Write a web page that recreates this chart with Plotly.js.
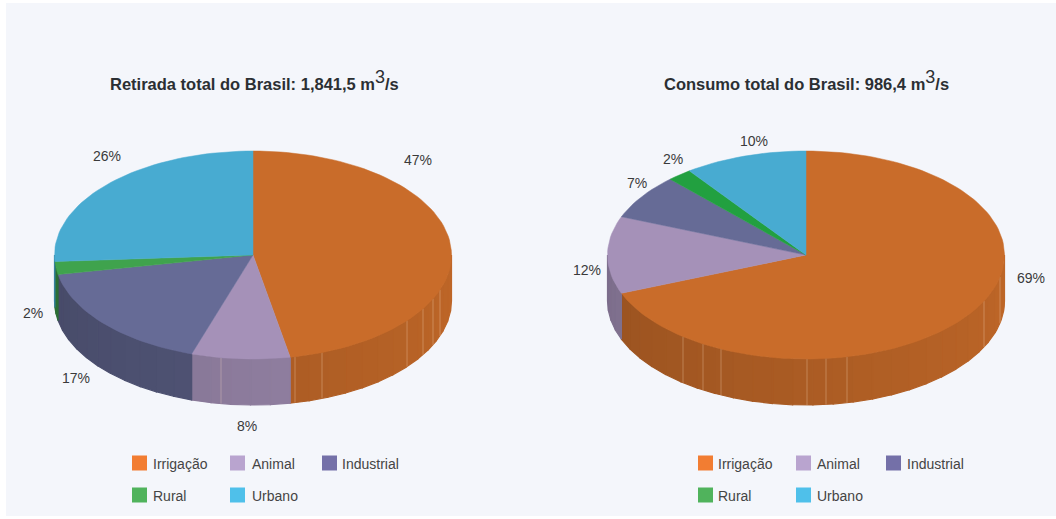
<!DOCTYPE html>
<html>
<head>
<meta charset="utf-8">
<script src="https://cdn.plot.ly/plotly-3.0.1.min.js"></script>
<style>html,body{margin:0;padding:0;background:#fff}#chart{width:1056px;height:519px}</style>
</head>
<body>
<div id="chart"></div>
<script>
// ---- data ----
const categories = ["Irrigação", "Animal", "Industrial", "Rural", "Urbano"];
const retirada = [47, 8, 17, 2, 26];
const consumo = [69, 12, 7, 2, 10];
const titleRetirada = '<b>Retirada total do Brasil: 1,841,5 m<sup><span style="font-size:18px;font-weight:normal">3</span></sup>/s</b>';
const titleConsumo = '<b>Consumo total do Brasil: 986,4 m<sup><span style="font-size:18px;font-weight:normal">3</span></sup>/s</b>';

// ---- styles ----
const topColorsLeft = ["#c96c2a", "#a591b8", "#666b96", "#3fa34d", "#48abd1"];
const topColorsRight = ["#c96c2a", "#a591b8", "#666b96", "#22a040", "#48abd1"];
const legendColors = ["#f27d32", "#b9a4cf", "#7470a8", "#50b35c", "#4fc0ea"];
const wallFactors = [1, 1, 0.92, 0.9, 1];

// ---- geometry of the pies (pixel-like axis units) ----
const RX = 198.5, RY = 104, DEPTH = 46, CY = 255;
const leftPie = {cx: 253, values: retirada, colors: topColorsLeft,
  seams: [295, 322, 407, 423, 433, 440, 221],
  labelX: [418, 247, 76, 33, 107], labelY: [160, 426, 378, 313, 156],
  legendX: [132, 230, 322, 132, 230], legendTextX: [151, 250, 340, 151, 250],
  titleX: 254.5, title: titleRetirada};
const rightPie = {cx: 806, values: consumo, colors: topColorsRight,
  seams: [683, 703, 721, 807, 826, 847, 984, 1000],
  labelX: [1031, 587, 637, 673, 754], labelY: [278, 270, 183, 159, 141],
  legendX: [698, 796, 886, 698, 796], legendTextX: [716, 815, 905, 716, 815],
  titleX: 806, title: titleConsumo};
const legendY = [463, 463, 463, 495, 495];

const rad = d => d * Math.PI / 180;
const px = (cx, t) => cx + RX * Math.sin(rad(t));
const py = t => CY - RY * Math.cos(rad(t));
function shade(hex, f) {
  const n = parseInt(hex.slice(1), 16);
  const c = [(n >> 16) & 255, (n >> 8) & 255, n & 255].map(v => Math.round(v * f));
  return `rgb(${c[0]},${c[1]},${c[2]})`;
}

const traces = [];
const annotations = [];

function addPoly(xs, ys, color, lw) {
  traces.push({type: "scatter", mode: "lines", x: xs, y: ys, fill: "toself",
    fillcolor: color, line: {color: color, width: lw}, hoverinfo: "skip", showlegend: false});
}

function drawPie(p) {
  const total = p.values.reduce((a, b) => a + b, 0);
  const edges = [0];
  p.values.forEach(v => edges.push(edges[edges.length - 1] + v / total * 360));

  // side wall: only the front half of the rim (90..270 degrees) is visible
  p.values.forEach((v, i) => {
    const a = Math.max(edges[i], 90), b = Math.min(edges[i + 1], 270);
    if (b <= a) return;
    const n = Math.max(1, Math.ceil((b - a) / 6));
    for (let k = 0; k < n; k++) {
      const t0 = a + (b - a) * k / n, t1 = a + (b - a) * (k + 1) / n;
      const steps = [0, 1, 2, 3, 4].map(s => t0 + (t1 - t0) * s / 4);
      const xs = steps.map(t => px(p.cx, t));
      const top = steps.map(py);
      const f = (0.95 - 0.2 * ((t0 + t1) / 2 - 90) / 180) * wallFactors[i];
      addPoly(xs.concat(xs.slice().reverse(), [xs[0]]),
              top.concat(top.map(y => y + DEPTH).reverse(), [top[0]]),
              shade(p.colors[i], f), 1.2);
    }
  });

  // light seams on the wall
  p.seams.forEach(x => {
    const u = (x - p.cx) / RX;
    const y = CY + RY * Math.sqrt(1 - u * u);
    traces.push({type: "scatter", mode: "lines", x: [x, x], y: [y, y + DEPTH],
      line: {color: "rgba(255,225,200,0.3)", width: 1}, hoverinfo: "skip", showlegend: false});
  });

  // top face
  p.values.forEach((v, i) => {
    const a = edges[i], b = edges[i + 1];
    const n = Math.max(2, Math.ceil((b - a) / 2));
    const xs = [p.cx], ys = [CY];
    for (let k = 0; k <= n; k++) {
      const t = a + (b - a) * k / n;
      xs.push(px(p.cx, t)); ys.push(py(t));
    }
    xs.push(p.cx); ys.push(CY);
    addPoly(xs, ys, p.colors[i], 0.5);
  });

  // percentage labels
  p.values.forEach((v, i) => {
    annotations.push({xref: "x", yref: "y", x: p.labelX[i], y: p.labelY[i], text: v + "%",
      showarrow: false, font: {family: "Liberation Sans", size: 14, color: "#3a3a3a"}});
  });

  // title
  annotations.push({xref: "x", yref: "y", x: p.titleX, y: 80, text: p.title, showarrow: false,
    font: {family: "Liberation Sans", size: 16.5, color: "#2b2f33"}});

  // legend
  traces.push({type: "scatter", mode: "markers", x: p.legendX.map(x => x + 7.5), y: legendY,
    marker: {symbol: "square", size: 15, color: legendColors, line: {width: 0}},
    hoverinfo: "skip", showlegend: false});
  categories.forEach((c, i) => {
    annotations.push({xref: "x", yref: "y", x: p.legendTextX[i], y: legendY[i] + 0.5, text: c,
      xanchor: "left", showarrow: false, font: {family: "Liberation Sans", size: 14, color: "#444"}});
  });
}

drawPie(leftPie);
drawPie(rightPie);

const layout = {
  width: 1056, height: 519, margin: {l: 0, r: 0, t: 0, b: 0},
  paper_bgcolor: "#ffffff", plot_bgcolor: "#ffffff", showlegend: false,
  xaxis: {range: [0, 1056], visible: false, fixedrange: true},
  yaxis: {range: [519, 0], visible: false, fixedrange: true},
  shapes: [{type: "rect", xref: "x", yref: "y", x0: 6, x1: 1056, y0: 3, y1: 516,
    fillcolor: "#f4f6fb", line: {width: 0}, layer: "below"}],
  annotations: annotations
};
Plotly.newPlot("chart", traces, layout, {displayModeBar: false, staticPlot: true});
</script>
</body>
</html>
